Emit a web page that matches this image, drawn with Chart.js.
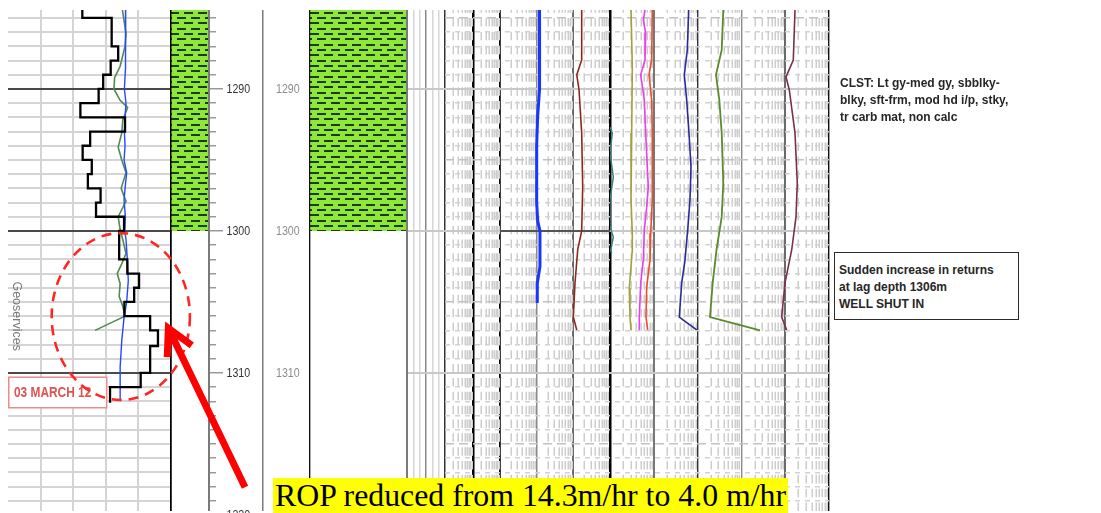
<!DOCTYPE html>
<html>
<head>
<meta charset="utf-8">
<title>Mud log 1284-1320 m</title>
<script src="https://cdn.jsdelivr.net/npm/chart.js@4.4.1/dist/chart.umd.min.js"></script>
<style>
  html, body { margin:0; padding:0; background:#fff; }
  #wrap { position:relative; width:1101px; height:513px; overflow:hidden; background:#fff; }
  #c { position:absolute; left:0; top:0; }
  .note { position:absolute; font-family:"Liberation Sans", Arial, sans-serif; font-weight:bold; font-size:12px; line-height:17px; color:#262626; white-space:nowrap; }
  #clst { left:840px; top:75px; }
  #shut { left:834px; top:252px; width:185px; height:68px; box-sizing:border-box; border:1.5px solid #2a2a2a; padding:9px 0 0 4px; background:#fff; }
  #rop { position:absolute; left:273px; top:478px; height:35px; background:#ffff00; font-family:"Liberation Serif","Times New Roman",serif; font-size:31.8px; line-height:35px; padding:0 2px; color:#000; white-space:nowrap; }
</style>
</head>
<body>
<div id="wrap">
  <canvas id="c" width="1101" height="513"></canvas>
  <div class="note" id="clst">CLST: Lt gy-med gy, sbblky-<br>blky, sft-frm, mod hd i/p, stky,<br>tr carb mat, non calc</div>
  <div class="note" id="shut">Sudden increase in returns<br>at lag depth 1306m<br>WELL SHUT IN</div>
  <div id="rop">ROP reduced from 14.3m/hr to 4.0 m/hr</div>
</div>
<script>
// ================= DATA =================
const DEPTH_TOP = 1284.44;
const DEPTH_BASE = 1319.72;
const depthTickLabels = [1290, 1300, 1310, 1320];

// claystone (shale symbol) interval
const shaleTop = [1284.44];
const shaleBase = [1300];
const markerDepth = [1300];

// ROP (m/hr) - one value per drilled interval
const ropTop = [1284.44, 1285, 1287, 1288, 1289, 1290, 1291, 1292, 1293, 1294, 1295, 1296, 1297, 1298, 1299, 1300, 1302, 1303, 1304, 1305, 1306, 1307, 1308.1, 1310, 1311];
const ropVal = [27.2, 18.2, 16.2, 18.5, 20.8, 22.2, 27.8, 14.1, 24.8, 27.1, 24.3, 25.5, 21.6, 23.0, 14.4, 15.9, 13.4, 9.8, 11.3, 14.3, 6.4, 4.0, 6.4, 9.3, 18.7];
const ropBase = 1312.1;

// left track secondary curves (same scale as ROP track)
const leftBlueDepth = [1284.44, 1287, 1288.5, 1290, 1291, 1292, 1293, 1294, 1295, 1295.9, 1297, 1297.8, 1299, 1300, 1300.6, 1302, 1303.5, 1305, 1306.1, 1307.7, 1309.6, 1311.9];
const leftBlueVal   = [13.9, 13.9, 14.0, 14.3, 13.8, 14.1, 14.3, 14.1, 14.4, 13.6, 14.1, 14.4, 14.0, 14.2, 13.8, 13.4, 13.1, 13.6, 14.4, 15.1, 15.6, 15.6];
const leftGreenDepth = [1284.44, 1286.1, 1287.0, 1288.4, 1289.2, 1290.0, 1290.8, 1291.3, 1292.2, 1293.1, 1294.1, 1295.0, 1295.9, 1297.0, 1297.9, 1299.0, 1299.9, 1300.6, 1301.6, 1302.3, 1303.0, 1303.7, 1304.6, 1305.3, 1306.0, 1307.0];
const leftGreenVal   = [14.9, 13.8, 14.1, 15.6, 17.3, 17.5, 15.6, 13.3, 14.8, 15.1, 16.2, 15.1, 13.8, 15.3, 13.8, 16.2, 15.6, 14.8, 13.8, 15.1, 16.5, 15.6, 15.9, 14.8, 14.1, 23.3];

// gas track A (3 log cycles)
const gasBlueDepth = [1284.44, 1288, 1290, 1292, 1294, 1296, 1298, 1299.3, 1300.0, 1302.5, 1303.7, 1305.07];
const gasBlueVal   = [11.8, 11.8, 12.2, 10.6, 10.0, 10.0, 10.0, 10.7, 12.3, 12.3, 10.4, 10.4];
const gasBrownDepth = [1284.44, 1287.96, 1289.01, 1290.07, 1293.1, 1296.9, 1300.0, 1301.3, 1303.66, 1306.06, 1306.97];
const gasBrownVal   = [169, 169, 124, 143, 169, 180, 169, 132, 111, 100, 124];

// gas track B (5 log cycles)
const gasTealDepth = [1292.68, 1293.1, 1294.5, 1296.2, 1297.82, 1299.72, 1300.42, 1301.34, 1301.6];
const gasTealVal   = [1.0, 1.13, 1.0, 1.19, 1.0, 1.0, 1.19, 1.04, 1.09];
const gasOliveDepth = [1284.44, 1288.45, 1293.1, 1297.82, 1300.14, 1301.34, 1304.01, 1306.06, 1306.97];
const gasOliveVal   = [3.02, 3.23, 3.13, 3.02, 3.23, 3.23, 2.76, 2.86, 3.02];
const gasMagentaDepth = [1284.44, 1285.14, 1286.06, 1287.96, 1289.01, 1290.77, 1293.1, 1295.49, 1296.9, 1298.31, 1299.93, 1302.04, 1303.66, 1306.06, 1306.97];
const gasMagentaVal   = [6.30, 5.76, 6.53, 6.30, 5.02, 6.07, 6.53, 7.11, 7.49, 6.88, 6.07, 5.76, 5.02, 4.67, 4.67];
const gasRedDepth = [1284.44, 1287.96, 1289.01, 1290.77, 1293.1, 1297.82, 1300.14, 1302.04, 1303.94, 1306.06, 1306.97];
const gasRedVal   = [9.24, 8.95, 7.77, 8.95, 9.24, 9.24, 8.50, 8.19, 6.88, 6.63, 7.26];
const gasNavyDepth = [1284.44, 1287.25, 1289.01, 1290.77, 1293.1, 1295.49, 1297.82, 1299.93, 1302.04, 1303.66, 1306.06, 1306.97];
const gasNavyVal   = [62.6, 58.2, 49.7, 56.3, 63.6, 70.7, 67.0, 59.4, 51.6, 43.4, 38.2, 95.3];
const gasGreenDepth = [1284.44, 1287.25, 1289.01, 1290.77, 1293.1, 1296.62, 1299.01, 1301.34, 1303.66, 1306.06, 1307.0];
const gasGreenVal   = [386, 355, 263, 313, 355, 386, 355, 270, 221, 192, 2660];
const gasMaroonDepth = [1284.44, 1287.96, 1289.15, 1290.07, 1293.1, 1296.62, 1299.01, 1301.34, 1303.66, 1306.06, 1306.97];
const gasMaroonVal   = [16740, 15310, 10430, 12410, 16740, 18880, 17650, 14070, 9890, 8310, 10810];

// annotations, in ROP-track units / depth
const ellipseBounds = { vLeft: 36.6, vRight: -5.8, dTop: 1300.15, dBase: 1311.9 };
const arrowTail = { v: -22.7, d: 1318.05 };
const arrowTip  = { v: 0.8,   d: 1306.85 };
const dateBox = { vLeft: 50, vRight: 19.5, dTop: 1310.3, dBase: 1312.45, text: '03 MARCH 12' };
const geoLabel = { v: 47.3, d: 1306.0, text: 'Geoservices' };

// ================= HELPERS =================
const CLEAR = 'rgba(0,0,0,0)';
const pts = (D, V) => D.map((d, i) => ({ x: V[i], y: d }));
const isDecade = v => { const l = Math.log10(v); return Math.abs(l - Math.round(l)) < 1e-9; };

function makeShalePattern() {
  const c = document.createElement('canvas');
  c.width = 14; c.height = 32;
  const g = c.getContext('2d');
  g.fillStyle = '#8ee83a'; g.fillRect(0, 0, 14, 32);
  g.fillStyle = '#1f3a12';
  [0, 5, 11, 16, 21, 27].forEach((r, i) => {
    const x = (i % 2 ? 7 : 0) + 2;
    g.fillRect(x, r + 1, 9, 2);
    if (x + 9 > 14) g.fillRect(x - 14, r + 1, 9, 2);
  });
  return g.createPattern(c, 'repeat');
}
const shalePattern = makeShalePattern();

function gridFrom(colorFn, widthFn, z) {
  return {
    drawTicks: false, offset: false, z: z || 0,
    color: c => c.tick ? colorFn(c.tick.value) : CLEAR,
    lineWidth: c => c.tick ? widthFn(c.tick.value) : 0
  };
}
function track(type, min, max, weight, grid, extra) {
  return Object.assign({
    type, axis: 'x', position: 'bottom', stack: 'log', stackWeight: weight,
    min, max, offset: false,
    ticks: { display: false, stepSize: 1 },
    border: { display: false }, grid
  }, extra || {});
}

const scales = {
  y: { type: 'linear', axis: 'y', position: 'left', reverse: true, min: DEPTH_TOP, max: DEPTH_BASE, display: false },
  tRop: track('linear', 0, 50, 163,
    gridFrom(v => v === 0 ? '#000' : (v === 50 ? CLEAR : '#d4d4d4'), v => v === 0 ? 1.5 : 2),
    { reverse: true, ticks: { display: false, stepSize: 10 } }),
  tLith1: track('linear', 0, 1, 38, gridFrom(v => v === 0 ? '#000' : '#7a7a7a', v => v === 0 ? 1.5 : 2, 1)),
  tDepth1: track('linear', 0, 1, 54, gridFrom(v => v === 0 ? CLEAR : '#7a7a7a', v => 1.5)),
  tDepth2: track('linear', 0, 1, 47, gridFrom(v => v === 0 ? CLEAR : '#111', v => 1.2)),
  tLith2: track('linear', 0, 1, 97, gridFrom(v => v === 0 ? '#111' : '#7a7a7a', v => v === 0 ? 1.2 : 2, 1)),
  tCal: track('linear', 0, 6, 38, gridFrom(v => v === 0 ? CLEAR : v === 3 ? '#888' : v === 6 ? '#333' : '#d6d6d6', v => 1.5)),
  tC1: track('logarithmic', 1, 10, 28, gridFrom(v => v === 10 ? '#000' : CLEAR, v => 2.5)),
  tC2: track('logarithmic', 1, 10, 27, gridFrom(v => v === 10 ? '#000' : CLEAR, v => 1.5)),
  tGasA: track('logarithmic', 1, 1000, 110,
    gridFrom(v => !isDecade(v) ? CLEAR : (v === 1 ? '#000' : v === 1000 ? '#000' : (v === 10 ? '#8a8a8a' : '#6a6a6a')),
             v => v === 1000 ? 2.5 : (v === 100 ? 2 : 1.5))),
  tGasB: track('logarithmic', 1, 100000, 219,
    gridFrom(v => !isDecade(v) || v === 1 ? CLEAR : ({10: '#777', 100: '#333', 1000: '#8a8a8a', 10000: '#6a6a6a', 100000: '#111'})[Math.round(v)] || '#888',
             v => (v === 10 || v === 10000) ? 2 : 1.4))
};

const lineDS = (label, axis, D, V, color, width, extra) => Object.assign({
  type: 'line', label, xAxisID: axis, yAxisID: 'y', indexAxis: 'y',
  data: pts(D, V), borderColor: color, borderWidth: width,
  pointRadius: 0, pointHoverRadius: 0, fill: false, tension: 0
}, extra || {});

const ropPoints = pts(ropTop, ropVal).concat([{ x: ropVal[ropVal.length - 1], y: ropBase }]);

// lithology column: full-width fill between the column's edges over each interval
const LITH_FULL = 1, LITH_EDGE = 0;
const lithDS = axis => ({
  type: 'line', label: 'Claystone', xAxisID: axis, yAxisID: 'y', indexAxis: 'y',
  data: shaleTop.flatMap((t, i) => [{ x: LITH_FULL, y: t }, { x: LITH_FULL, y: shaleBase[i] }]),
  borderWidth: 0, pointRadius: 0, pointHoverRadius: 0, tension: 0,
  backgroundColor: shalePattern, fill: { value: LITH_EDGE }
});

const datasets = [
  Object.assign(lineDS('ROP', 'tRop', [], [], '#000', 2.3, { stepped: 'after' }), { data: ropPoints }),
  lineDS('Left blue', 'tRop', leftBlueDepth, leftBlueVal, '#2448ff', 1.4),
  lineDS('Left green', 'tRop', leftGreenDepth, leftGreenVal, '#4f8a50', 1.6),
  lineDS('Gas blue', 'tGasA', gasBlueDepth, gasBlueVal, '#1836ff', 3),
  lineDS('Gas brown', 'tGasA', gasBrownDepth, gasBrownVal, '#8a2a1e', 1.6),
  lineDS('Teal', 'tGasB', gasTealDepth, gasTealVal, '#3a7f80', 1.5),
  lineDS('Olive', 'tGasB', gasOliveDepth, gasOliveVal, '#a0a040', 1.6),
  lineDS('Magenta', 'tGasB', gasMagentaDepth, gasMagentaVal, '#ee3cee', 1.6),
  lineDS('Red', 'tGasB', gasRedDepth, gasRedVal, '#f04a30', 1.6),
  lineDS('Navy', 'tGasB', gasNavyDepth, gasNavyVal, '#2a2a9c', 1.6),
  lineDS('Green', 'tGasB', gasGreenDepth, gasGreenVal, '#5a8a2c', 1.8),
  lineDS('Maroon', 'tGasB', gasMaroonDepth, gasMaroonVal, '#7a2e50', 1.6),
  lithDS('tLith1'),
  lithDS('tLith2')
];

function narrowText(ctx, txt, x, y, color, font, sx) {
  ctx.save();
  ctx.translate(x, y);
  ctx.scale(sx, 1);
  ctx.font = font; ctx.fillStyle = color;
  ctx.fillText(txt, 0, 0);
  ctx.restore();
}

// ================= PLUGINS =================
const trackLines = {
  id: 'trackLines',
  beforeDatasetsDraw(chart) {
    const { ctx, chartArea: area, scales: s } = chart;
    const yp = d => s.y.getPixelForValue(d);
    const first = Math.ceil(DEPTH_TOP), last = Math.floor(DEPTH_BASE);
    const hline = (x1, x2, d, color, width, dash) => {
      const yy = Math.round(yp(d) - width / 2) + width / 2;
      ctx.beginPath(); ctx.setLineDash(dash || []); ctx.strokeStyle = color; ctx.lineWidth = width;
      ctx.moveTo(x1, yy); ctx.lineTo(x2, yy); ctx.stroke();
    };
    ctx.save();
    ctx.beginPath(); ctx.rect(area.left, area.top, area.width, area.height); ctx.clip();

    // ROP track metre grid
    for (let d = first; d <= last; d++) if (d % 10 !== 0) hline(s.tRop.left, s.tRop.right, d, '#d4d4d4', 2);
    for (let d = first; d <= last; d++) if (d % 10 === 0) hline(s.tRop.left, s.tRop.right, d, '#4a4a4a', 2);

    // gas-track texture: dashed log minor lines
    const texL = s.tC1.left, texR = s.tGasB.right;
    const row = yp(first + 1) - yp(first);
    const period = row * 0.975, on = row * 0.6;
    const y0 = yp(first);
    ctx.setLineDash([on, period - on]);
    ctx.lineDashOffset = period - ((y0 - area.top) % period);
    ctx.strokeStyle = '#cdcdcd'; ctx.lineWidth = 1.5;
    ctx.beginPath();
    ['tC1', 'tC2', 'tGasA', 'tGasB'].forEach(id => {
      const sc = s[id];
      sc.ticks.forEach(t => {
        const m = t.value / Math.pow(10, Math.floor(Math.log10(t.value) + 1e-9));
        const mr = Math.round(m);
        if (Math.abs(m - mr) < 1e-6 && mr >= 2 && mr <= 9) {
          const x = Math.round(sc.getPixelForValue(t.value)) + 0.25;
          ctx.moveTo(x, area.top); ctx.lineTo(x, area.bottom);
        }
      });
    });
    ctx.stroke();
    ctx.lineDashOffset = 0;
    for (let d = first; d <= last; d++) if (d % 5 !== 0) hline(texL, texR, d, '#d2d2d2', 1.5, [5, 5]);
    for (let d = first; d <= last; d++) if (d % 5 === 0 && d % 10 !== 0) hline(texL, texR, d, '#c2c2c2', 1.5, [9, 5]);
    for (let d = first; d <= last; d++) if (d % 10 === 0) hline(s.tCal.left, texR, d, '#c8c8c8', 2);
    markerDepth.forEach(d => hline(s.tGasA.left, s.tGasA.right, d, '#555', 2));
    ctx.restore();

    // depth ticks
    ctx.save();
    ctx.strokeStyle = '#9a9a9a'; ctx.lineWidth = 1.5; ctx.setLineDash([]);
    const tx = s.tDepth1.left + 1;
    for (let d = first; d <= last; d++) {
      const len = d % 10 === 0 ? 13 : 6;
      const yy = Math.round(yp(d) - 0.75) + 0.75;
      ctx.beginPath(); ctx.moveTo(tx, yy); ctx.lineTo(tx + len, yy); ctx.stroke();
    }
    ctx.textBaseline = 'middle'; ctx.textAlign = 'left';
    depthTickLabels.forEach(lab => {
      const yy = yp(lab);
      narrowText(ctx, String(lab), s.tDepth1.left + 17.5, yy, '#333', '13px "Liberation Sans", Arial, sans-serif', 0.82);
      narrowText(ctx, String(lab), s.tDepth2.left + 13, yy, '#8c8c8c', '13px "Liberation Sans", Arial, sans-serif', 0.82);
    });
    ctx.restore();
  }
};

const annotations = {
  id: 'annotations',
  afterDraw(chart) {
    const { ctx, scales: s } = chart;
    const px = v => s.tRop.getPixelForValue(v);
    const py = d => s.y.getPixelForValue(d);

    // vertical "Geoservices"
    ctx.save();
    ctx.translate(px(geoLabel.v), py(geoLabel.d));
    ctx.rotate(Math.PI / 2);
    ctx.font = '12.5px "Liberation Sans", Arial, sans-serif';
    ctx.fillStyle = '#7a7a7a'; ctx.textAlign = 'center'; ctx.textBaseline = 'middle';
    ctx.fillText(geoLabel.text, 0, 0);
    ctx.restore();

    // date box
    const bx1 = px(dateBox.vLeft), bx2 = px(dateBox.vRight), by1 = py(dateBox.dTop), by2 = py(dateBox.dBase);
    ctx.save();
    ctx.fillStyle = '#fff'; ctx.fillRect(bx1, by1, bx2 - bx1, by2 - by1);
    ctx.strokeStyle = '#ef8a8a'; ctx.lineWidth = 1.5; ctx.strokeRect(bx1 + 0.75, by1, bx2 - bx1 - 1.5, by2 - by1);
    ctx.textBaseline = 'middle'; ctx.textAlign = 'left';
    narrowText(ctx, dateBox.text, bx1 + 6, (by1 + by2) / 2 + 0.5, '#e05252', 'bold 14.5px "Liberation Sans", Arial, sans-serif', 0.82);
    ctx.restore();

    // dashed ellipse
    const ex1 = px(ellipseBounds.vLeft), ex2 = px(ellipseBounds.vRight);
    const ey1 = py(ellipseBounds.dTop), ey2 = py(ellipseBounds.dBase);
    ctx.save();
    ctx.strokeStyle = '#ff2626'; ctx.lineWidth = 2.6; ctx.setLineDash([10, 7]);
    ctx.beginPath();
    ctx.ellipse((ex1 + ex2) / 2, (ey1 + ey2) / 2, Math.abs(ex2 - ex1) / 2, Math.abs(ey2 - ey1) / 2, 0, 0, Math.PI * 2);
    ctx.stroke();
    ctx.restore();

    // arrow
    const tX = px(arrowTail.v), tY = py(arrowTail.d), hX = px(arrowTip.v), hY = py(arrowTip.d);
    const ang = Math.atan2(tY - hY, tX - hX);
    const wing = 29, spread = 28 * Math.PI / 180;
    ctx.save();
    ctx.strokeStyle = '#ff0000'; ctx.lineWidth = 7; ctx.lineCap = 'butt'; ctx.lineJoin = 'miter';
    ctx.beginPath();
    ctx.moveTo(tX, tY); ctx.lineTo(hX, hY);
    ctx.moveTo(hX + wing * Math.cos(ang + spread), hY + wing * Math.sin(ang + spread));
    ctx.lineTo(hX, hY);
    ctx.lineTo(hX + wing * Math.cos(ang - spread), hY + wing * Math.sin(ang - spread));
    ctx.stroke();
    ctx.restore();
  }
};

new Chart(document.getElementById('c'), {
  type: 'line',
  data: { datasets },
  options: {
    responsive: false, animation: false, events: [], devicePixelRatio: 1,
    layout: { padding: { left: 8, right: 272, top: 10, bottom: 2 } },
    plugins: { legend: { display: false }, tooltip: { enabled: false }, title: { display: false } },
    scales
  },
  plugins: [trackLines, annotations]
});
</script>
</body>
</html>
